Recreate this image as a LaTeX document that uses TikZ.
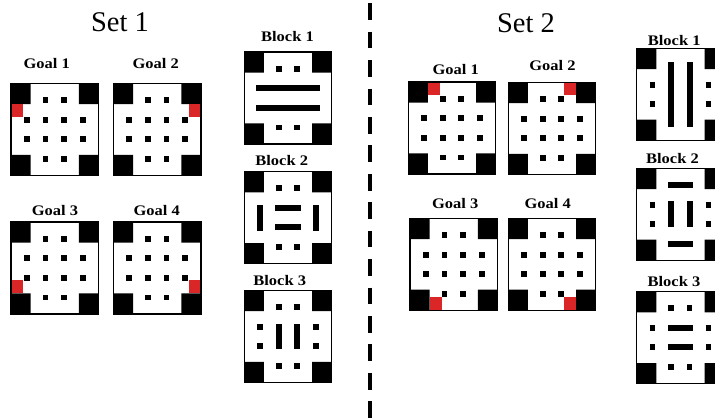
\documentclass[tikz,border=0pt]{standalone}
\usepackage{fontspec}
\setmainfont{Liberation Serif}
\newfontfamily\lblfont[FakeStretch=1.13]{Liberation Serif}
\definecolor{goalred}{RGB}{218,38,38}
\newcommand\mydot[2]{\fill ({#1-0.032},{#2-0.032}) rectangle ({#1+0.032},{#2+0.032});}
\newcommand\hseg[3]{\fill ({#1-0.042},{#3-0.033}) rectangle ({#2+0.042},{#3+0.033});}
\newcommand\vseg[3]{\fill ({#1-0.033},{#2-0.035}) rectangle ({#1+0.033},{#3+0.035});}
\newcommand\gridcorners{\fill (0,0) rectangle (0.225,0.225) (0.775,0) rectangle (1,0.225) (0,0.775) rectangle (0.225,1) (0.775,0.775) rectangle (1,1);}
\newcommand\gridoutline{\draw[frame] (0,0) rectangle (1,1);}
\newcommand\tbdots{\mydot{0.395}{0.18}\mydot{0.605}{0.18}\mydot{0.395}{0.82}\mydot{0.605}{0.82}}
\newcommand\sidedots{\mydot{0.18}{0.395}\mydot{0.18}{0.605}\mydot{0.82}{0.395}\mydot{0.82}{0.605}}
\newcommand\goaldots{\tbdots\sidedots\mydot{0.395}{0.395}\mydot{0.605}{0.395}\mydot{0.395}{0.605}\mydot{0.605}{0.605}}
\newcommand\redsq[2]{\fill[goalred] (#1,#2) rectangle ++(0.14,0.14);}
\tikzset{
  settitle/.style={font=\fontsize{28.5}{30}\selectfont, anchor=base, inner sep=0pt},
  lbl/.style={font=\lblfont\bfseries\fontsize{14.6}{16}\selectfont, anchor=base, inner sep=0pt},
  frame/.style={line width=1.3pt, black},
  cell/.style={shift={#1}, x=87.5pt, y=-92pt},
  divider/.style={line width=4pt, dash pattern=on 16.7pt off 11.73pt}
}
\begin{document}
\begin{tikzpicture}[x=1pt, y=-1pt]
\useasboundingbox (0,0) rectangle (715,418);
\clip (0,0) rectangle (715,418);
\fill[white] (0,0) rectangle (715,418);
% divider
\coordinate (dtop) at (369.5,3.3);
\coordinate (dbot) at (369.5,420);
\draw[divider] (dtop) -- (dbot);
% titles
\node[settitle] (set1) at (120,31.7) {Set 1};
\node[settitle] (set2) at (526,32.3) {Set 2};
% Set 1 labels
\node[lbl] (s1g1) at (46.7,68.3) {Goal 1};
\node[lbl] (s1g2) at (155.8,68.3) {Goal 2};
\node[lbl] (s1g3) at (55,215) {Goal 3};
\node[lbl] (s1g4) at (156.7,215) {Goal 4};
\node[lbl] (s1b1) at (287.5,41) {Block 1};
\node[lbl] (s1b2) at (281.7,165) {Block 2};
\node[lbl] (s1b3) at (279.7,285) {Block 3};
% Set 2 labels
\node[lbl] (s2g1) at (455.8,74) {Goal 1};
\node[lbl] (s2g2) at (552.5,70.7) {Goal 2};
\node[lbl] (s2g3) at (455.3,208.3) {Goal 3};
\node[lbl] (s2g4) at (547.8,208.3) {Goal 4};
\node[lbl] (s2b1) at (674.2,45) {Block 1};
\node[lbl] (s2b2) at (672.5,163.3) {Block 2};
\node[lbl] (s2b3) at (674,286.7) {Block 3};
% Set 1 goals
\begin{scope}[cell={(11,83.5)}]\gridcorners\goaldots\redsq{0}{0.225}\gridoutline\end{scope}
\begin{scope}[cell={(113.5,83.5)}]\gridcorners\goaldots\redsq{0.86}{0.225}\gridoutline\end{scope}
\begin{scope}[cell={(11,222)}]\gridcorners\goaldots\redsq{0}{0.635}\gridoutline\end{scope}
\begin{scope}[cell={(113.5,222)}]\gridcorners\goaldots\redsq{0.86}{0.635}\gridoutline\end{scope}
% Set 1 blocks
\begin{scope}[cell={(244.3,52)}]\gridcorners\tbdots
  \hseg{0.18}{0.82}{0.39}\hseg{0.18}{0.82}{0.605}\gridoutline\end{scope}
\begin{scope}[cell={(244.3,171.7)}]\gridcorners\tbdots
  \vseg{0.18}{0.395}{0.605}\vseg{0.82}{0.395}{0.605}
  \hseg{0.395}{0.605}{0.395}\hseg{0.395}{0.605}{0.605}\gridoutline\end{scope}
\begin{scope}[cell={(244.3,290.5)}]\gridcorners\tbdots\sidedots
  \vseg{0.395}{0.395}{0.605}\vseg{0.605}{0.395}{0.605}\gridoutline\end{scope}
% Set 2 goals
\begin{scope}[cell={(408.3,82)}]\gridcorners\goaldots\redsq{0.225}{0}\gridoutline\end{scope}
\begin{scope}[cell={(508.3,82.5)}]\gridcorners\goaldots\redsq{0.635}{0}\gridoutline\end{scope}
\begin{scope}[cell={(410,218.3)}]\gridcorners\goaldots\redsq{0.225}{0.86}\gridoutline\end{scope}
\begin{scope}[cell={(508.3,218.3)}]\gridcorners\goaldots\redsq{0.635}{0.86}\gridoutline\end{scope}
% Set 2 blocks
\begin{scope}[cell={(636.7,48.3)}]\gridcorners\sidedots
  \vseg{0.395}{0.18}{0.82}\vseg{0.605}{0.18}{0.82}\gridoutline\end{scope}
\begin{scope}[cell={(636.7,168.3)}]\gridcorners\sidedots
  \hseg{0.395}{0.605}{0.18}\hseg{0.395}{0.605}{0.82}
  \vseg{0.395}{0.395}{0.605}\vseg{0.605}{0.395}{0.605}\gridoutline\end{scope}
\begin{scope}[cell={(636.7,291.7)}]\gridcorners\tbdots\sidedots
  \hseg{0.395}{0.605}{0.395}\hseg{0.395}{0.605}{0.605}\gridoutline\end{scope}
\end{tikzpicture}
\end{document}
